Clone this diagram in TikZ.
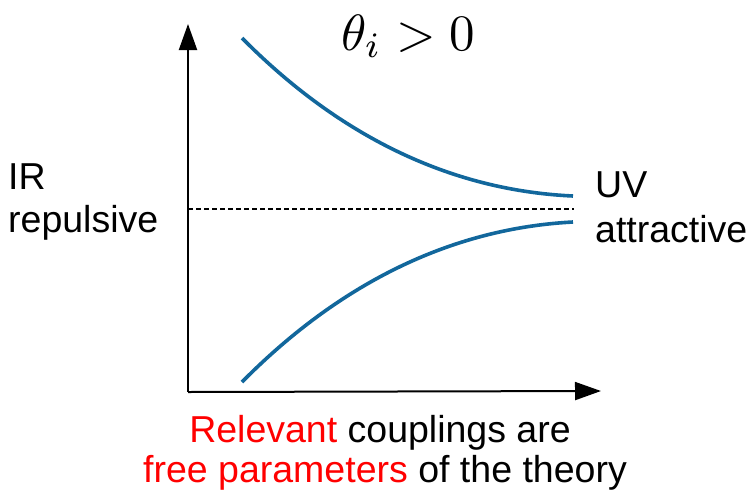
\documentclass[tikz,border=0pt]{standalone}
\usepackage{fontspec}
\setsansfont{Liberation Sans}
\usetikzlibrary{arrows.meta}
\definecolor{curveblue}{RGB}{18,103,156}
\definecolor{hired}{RGB}{255,0,0}
\begin{document}
\begin{tikzpicture}[x=1pt,y=-1pt,
  axis/.style={line width=2pt,-{Triangle[length=26pt,width=18pt]}},
  flow/.style={line width=3.6pt,curveblue},
  lab/.style={font=\sffamily\fontsize{37.5}{45}\selectfont,inner sep=0pt,anchor=base west},
  labc/.style={font=\sffamily\fontsize{37.5}{45}\selectfont,inner sep=0pt,anchor=base}]
\useasboundingbox (0,0) rectangle (749,493);
\coordinate (O) at (188,392);
\coordinate (ytip) at (188,24);
\coordinate (xtip) at (601,391);
\draw[axis] (O) -- (ytip);
\draw[axis] (O) -- (xtip);
\coordinate (dl) at (188,209);
\coordinate (dr) at (574,209);
\draw[line width=1.4pt,dash pattern=on 4.5pt off 3.5pt] (dl) -- (dr);
\coordinate (u0) at (242,38);
\coordinate (u1) at (573,196);
\coordinate (l0) at (242,382);
\coordinate (l1) at (573,222);
\draw[flow] (u0) .. controls (330,127) and (440,190) .. (u1);
\draw[flow] (l0) .. controls (330,293) and (440,229) .. (l1);
\node[scale=5.1,inner sep=0pt,anchor=base west] (theta) at (340,50) {$\theta_i > 0$};
\node[lab] (ir) at (8,189) {IR};
\node[lab] (rep) at (8,232) {repulsive};
\node[lab] (uv) at (595,197) {UV};
\node[lab] (att) at (595,242) {attractive};
\node[labc] (b1) at (380,442) {\textcolor{hired}{Relevant} couplings are};
\node[labc] (b2) at (385,482) {\textcolor{hired}{free parameters} of the theory};
\end{tikzpicture}
\end{document}
